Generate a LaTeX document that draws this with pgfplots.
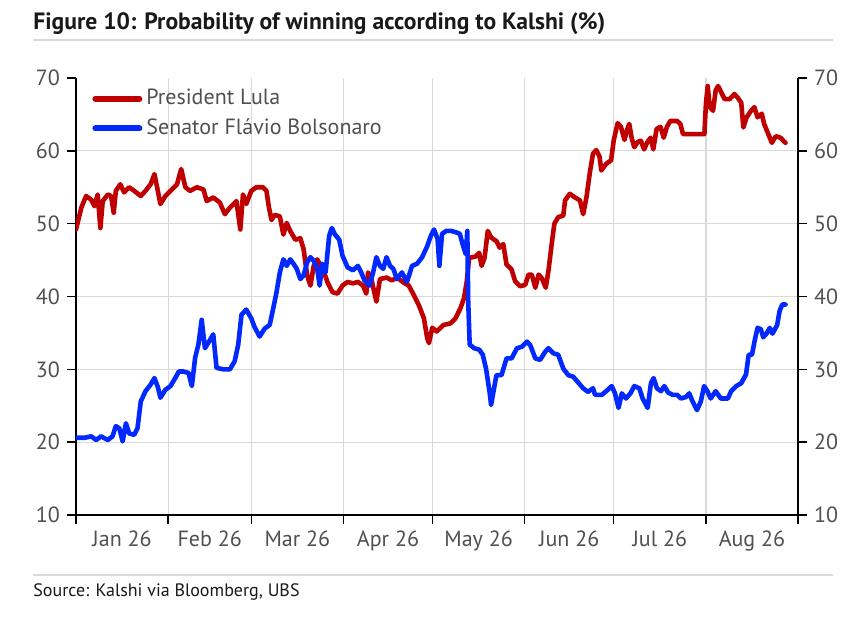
\documentclass[border=0pt]{standalone}
\usepackage{fontspec}
\setmainfont{PT Sans}
\usepackage{pgfplots}
\usepackage{pgfplotstable}
\pgfplotsset{compat=1.18}
\definecolor{lula}{RGB}{192,0,0}
\definecolor{flavio}{RGB}{0,40,255}
\definecolor{gridgray}{RGB}{217,217,217}
\definecolor{txtgray}{RGB}{80,80,80}
\definecolor{titlecol}{RGB}{25,25,25}

\pgfplotstableread{
x y
0 49.2
1.8 52.2
3.4 53.8
5.1 53.3
6.2 52.4
7.3 54.0
8.2 49.4
9.0 53.1
10.7 54.0
11.8 53.8
12.7 51.5
13.4 54.5
14.9 55.4
16.2 54.3
17.9 55.0
19.6 54.5
21.8 53.8
23.4 54.5
25.1 55.4
26.4 56.8
27.3 55.0
28.4 52.7
30.1 53.8
31.8 54.5
34.0 55.4
35.4 57.5
36.8 55.0
38.4 54.5
40.7 55.0
42.9 54.7
44.0 53.1
46.2 53.6
48.4 52.9
50.1 51.3
51.8 52.2
54.0 53.1
55.3 49.2
56.2 54.0
57.3 52.7
59.0 54.5
60.7 55.0
62.9 55.0
64.1 54.5
64.9 52.3
65.8 50.5
66.9 51.2
68.6 51.0
69.8 48.5
70.9 50.1
72.1 49.0
73.8 47.8
75.5 48.0
76.6 46.5
77.8 42.9
78.9 41.5
80.0 44.2
81.2 45.1
82.3 44.2
83.5 43.3
84.6 42.0
86.3 40.6
88.0 40.4
89.7 41.5
91.4 42.0
93.2 41.8
94.9 42.0
96.6 41.5
97.7 40.4
98.3 43.3
99.4 42.4
101.1 39.3
102.3 42.4
104.6 42.6
106.3 42.2
108.0 42.6
110.3 41.9
112.0 41.5
113.7 40.2
115.4 38.8
117.1 37.0
118.2 34.3
118.8 33.6
119.9 35.7
121.4 35.2
123.7 36.1
126.0 36.3
127.7 37.0
129.4 38.4
130.6 39.8
131.5 42.0
132.3 45.3
134.6 45.5
135.7 46.0
136.5 44.2
137.5 45.3
138.6 49.0
139.7 48.1
141.5 47.6
142.6 46.7
143.8 47.2
144.9 44.4
146.6 43.7
147.8 42.1
149.5 41.4
151.2 41.6
152.3 43.0
153.4 43.0
154.6 41.2
155.7 43.0
156.8 42.5
158.1 41.2
159.0 43.5
160.1 47.2
161.0 50.0
162.3 50.9
164.0 51.1
164.6 53.2
166.2 54.1
167.9 53.6
169.6 53.2
170.7 51.3
171.8 53.6
172.9 56.9
174.0 59.6
175.1 60.1
176.2 59.2
176.8 57.3
178.4 58.2
180.1 58.7
181.0 61.5
182.3 63.8
183.4 63.3
184.6 61.5
185.4 62.8
186.2 63.7
187.0 61.8
187.9 60.5
189.0 61.2
190.1 61.4
191.2 60.2
192.3 61.2
193.4 61.8
194.3 60.2
195.4 63.0
196.7 63.3
197.8 61.8
198.9 63.3
200.0 64.1
202.3 64.1
203.4 63.7
204.3 62.3
206.7 62.3
208.9 62.3
211.5 62.3
212.0 66.4
212.6 68.9
213.3 66.0
214.4 65.5
215.3 68.3
216.1 68.9
217.2 68.0
218.3 67.1
220.0 67.1
221.6 67.8
222.7 67.3
223.9 66.6
224.6 63.2
225.7 64.6
227.2 65.5
228.3 66.0
229.4 64.6
230.8 65.1
231.6 63.7
233.0 62.3
234.2 61.1
235.5 62.0
237.1 61.8
238.8 61.1
}\lulatable

\pgfplotstableread{
x y
0 20.6
2.9 20.6
5.1 20.8
6.8 20.3
8.4 20.8
10.7 20.3
12.3 20.8
13.4 22.2
14.6 21.9
15.7 20.1
16.8 22.6
17.9 21.2
19.6 21.0
20.7 21.9
21.8 25.6
23.4 27.0
25.1 27.9
26.4 28.8
27.6 27.5
28.4 26.1
30.1 27.2
31.8 27.7
33.4 28.8
34.6 29.7
36.2 29.7
37.9 29.5
39.0 27.7
40.1 31.6
41.2 33.4
42.3 36.8
43.4 32.9
44.9 33.9
46.2 34.8
47.3 30.2
49.6 30.0
51.8 30.0
53.4 31.1
54.6 33.4
55.7 37.5
57.3 38.2
59.0 37.0
60.1 35.8
61.8 34.5
63.5 35.6
65.2 36.1
66.4 38.4
67.5 40.6
68.6 43.3
69.8 45.1
70.9 44.2
72.1 45.1
73.2 44.5
74.3 43.8
75.5 42.4
76.6 42.9
77.8 44.7
78.9 45.4
80.0 44.9
81.2 43.8
82.0 41.5
82.9 44.5
84.0 43.3
85.2 48.3
86.1 49.4
87.2 48.5
88.6 47.8
89.7 45.6
91.4 44.0
93.2 43.6
94.9 44.2
96.0 43.3
97.1 42.2
98.8 41.5
100.0 43.3
101.1 45.4
102.3 44.2
103.4 43.8
104.5 45.4
105.7 44.2
106.8 43.8
108.0 42.4
109.7 43.3
111.4 42.0
113.1 44.2
114.8 44.5
116.5 45.4
118.2 46.9
119.4 48.3
120.5 49.2
121.7 47.9
122.3 44.2
123.2 48.6
124.6 49.0
126.3 49.0
128.0 48.8
129.2 48.6
130.1 47.2
131.2 45.8
131.7 49.0
132.0 39.4
132.5 33.4
134.0 32.9
135.7 32.7
136.9 32.0
138.0 30.1
139.2 26.9
139.7 25.1
140.7 27.4
141.5 29.2
143.2 29.2
144.9 31.5
146.6 31.5
148.4 32.9
150.1 33.1
151.8 33.8
152.9 33.3
154.6 31.5
156.2 31.3
157.9 32.4
159.0 32.9
160.7 32.2
162.3 32.0
164.0 30.1
165.7 29.2
167.3 29.0
169.0 28.2
170.7 27.4
172.3 26.9
174.0 27.4
174.7 26.5
177.0 26.5
179.0 27.2
180.3 27.7
181.4 26.7
182.6 24.7
183.7 26.7
185.1 26.0
186.6 26.7
187.9 27.7
189.6 27.4
190.7 26.0
192.4 24.7
193.5 28.1
194.4 28.8
195.5 27.4
196.9 27.0
198.0 27.7
199.3 26.8
200.8 26.5
202.3 26.5
203.6 26.0
205.3 26.2
206.4 26.7
207.5 25.6
209.0 24.4
210.3 25.6
211.4 27.7
212.5 27.0
213.6 26.0
215.3 27.0
217.0 26.0
218.6 26.0
219.4 26.0
220.5 27.0
222.2 27.7
223.9 28.1
225.5 29.3
226.4 32.0
227.5 32.0
228.6 34.3
229.4 35.7
230.5 35.5
231.3 34.4
232.4 34.9
233.5 35.7
234.4 34.9
236.0 36.1
236.8 38.0
237.7 38.9
238.8 38.9
}\flaviotable

\begin{document}
\begin{tikzpicture}
\useasboundingbox (-38pt,-52.5pt) rectangle (390pt,257.5pt);
\begin{axis}[
  scale only axis, width=361pt, height=218.5pt,
  xmin=0, xmax=243, ymin=10, ymax=70,
  axis x line*=bottom, axis y line*=left,
  xtick={0,31,59,90,120,151,181,212,243},
  xticklabels={Jan 26,Feb 26,Mar 26,Apr 26,May 26,Jun 26,Jul 26,Aug 26},
  x tick label as interval,
  ytick={20,30,40,50,60},
  extra y ticks={10,70},
  extra y tick style={grid=none},
  grid=major,
  major grid style={gridgray, line width=0.6pt},
  tick align=outside,
  major tick length=4.5pt,
  tick style={black, line width=0.7pt},
  axis line style={black, line width=0.8pt, -},
  ticklabel style={font=\fontsize{11}{12}\selectfont, text=txtgray},
  /pgf/number format/assume math mode=true,
  legend style={draw=none, fill=none, at={(rel axis cs:0,1)}, anchor=north west,
    xshift=6pt, yshift=-1.5pt, font=\fontsize{11}{13}\selectfont, text=txtgray,
    row sep=1.5pt, inner sep=2pt},
  legend cell align=left,
  legend image code/.code={\draw[#1, line width=3pt] (0pt,0pt) -- (22pt,0pt);},
  every axis plot/.append style={line join=round, line cap=round},
]
\addplot[lula, line width=2.3pt] table[x=x, y=y] {\lulatable};
\addlegendentry{President Lula}
\addplot[flavio, line width=2.3pt] table[x=x, y=y] {\flaviotable};
\addlegendentry{Senator Flávio Bolsonaro}
\end{axis}
\begin{axis}[
  scale only axis, width=361pt, height=218.5pt,
  xmin=0, xmax=243, ymin=10, ymax=70,
  axis x line=none, axis y line*=right,
  ytick={10,20,...,70},
  tick align=outside,
  major tick length=4.5pt,
  tick style={black, line width=0.7pt},
  axis line style={black, line width=0.8pt, -},
  ticklabel style={font=\fontsize{11}{12}\selectfont, text=txtgray},
  /pgf/number format/assume math mode=true,
]
\end{axis}
\node[anchor=base west, font=\bfseries\fontsize{11.8}{13}\selectfont, text=titlecol, inner sep=0pt] at (-21.5pt,242.5pt) {Figure 10: Probability of winning according to Kalshi (\%)};
\draw[gridgray, line width=0.8pt] (-21.5pt,237.5pt) -- (378.5pt,237.5pt);
\draw[gridgray, line width=0.8pt] (-21.5pt,-30pt) -- (378.5pt,-30pt);
\node[anchor=base west, font=\fontsize{9}{11}\selectfont, text=titlecol, inner sep=0pt] at (-21.5pt,-41pt) {Source: Kalshi via Bloomberg, UBS};
\end{tikzpicture}
\end{document}
